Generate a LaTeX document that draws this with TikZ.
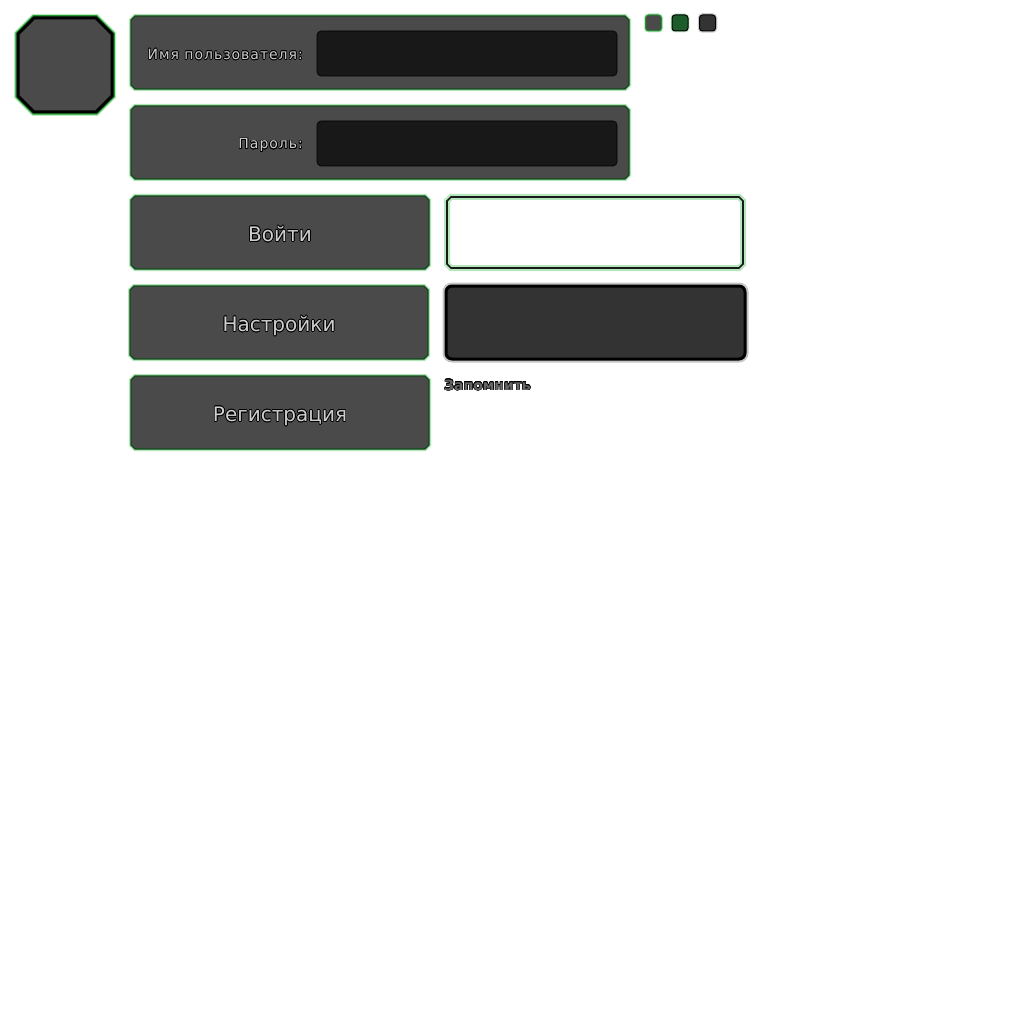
\documentclass[tikz,border=0pt]{standalone}
\usepackage{fontspec}
\setmainfont{DejaVu Sans}
\newfontfamily\labelfont[LetterSpace=7]{DejaVu Sans}
\usepackage[copies]{contour}
\contourlength{0.7pt}
\definecolor{panelgray}{HTML}{4A4A4A}
\definecolor{fieldgray}{HTML}{181818}
\definecolor{darkbox}{HTML}{333333}
\definecolor{borderg}{HTML}{0E4A16}
\definecolor{lineg}{HTML}{1E9A2E}
\definecolor{glowg}{HTML}{7AD487}
\definecolor{sqgreen}{HTML}{1C5C2A}
\definecolor{txtgray}{HTML}{CFCFCF}
% срезанный прямоугольник: {срез}{x1}{y1}{x2}{y2}
\newcommand{\chamfrect}[5]{({#2+#1},#3) -- ({#4-#1},#3) -- (#4,{#3+#1}) -- (#4,{#5-#1})
  -- ({#4-#1},#5) -- ({#2+#1},#5) -- (#2,{#5-#1}) -- (#2,{#3+#1}) -- cycle}
\begin{document}
\begin{tikzpicture}[x=1pt,y=-1pt,
  panel/.style={fill=panelgray, draw=borderg, line width=1.2pt,
    preaction={draw=glowg, line width=4pt, opacity=0.6}},
  field/.style={rectangle, rounded corners=4pt, fill=fieldgray, draw=black, line width=0.6pt,
    minimum width=300pt, minimum height=45pt, inner sep=0pt},
  btntext/.style={text=txtgray, font=\fontsize{20}{24}\selectfont, anchor=base, inner sep=0pt},
  lbltext/.style={text=txtgray, font=\labelfont\fontsize{14}{17}\selectfont, anchor=base east, inner sep=0pt},
  sq/.style={rectangle, rounded corners=3pt, minimum size=16pt, inner sep=0pt, line width=1pt}]
  \useasboundingbox[fill=white] (0,0) rectangle (1024,1024);

  % Аватар
  \draw[fill=panelgray, draw=black, line width=3pt,
    preaction={draw=glowg, line width=8pt, opacity=0.5},
    preaction={draw=lineg, line width=5.5pt}] \chamfrect{16}{18}{18}{112}{112};

  % Имя пользователя
  \draw[panel] \chamfrect{4}{131}{16}{629}{89};
  \node[field] (userfield) at (467,53.5) {};
  \node[lbltext] (userlabel) at (303,59.5) {\contour{black}{Имя пользователя:}};

  % Пароль
  \draw[panel] \chamfrect{4}{131}{106}{629}{179};
  \node[field] (passfield) at (467,143.5) {};
  \node[lbltext] (passlabel) at (303,149) {\contour{black}{Пароль:}};

  % Кнопки
  \draw[panel] \chamfrect{4}{131}{196}{429}{269};
  \node[btntext] (logintext) at (280,241.5) {\contour{black}{Войти}};
  \draw[panel] \chamfrect{4}{130}{286}{428}{359};
  \node[btntext] (settingstext) at (279,331.5) {\contour{black}{Настройки}};
  \draw[panel] \chamfrect{4}{131}{376}{429}{449};
  \node[btntext] (registertext) at (280,421.5) {\contour{black}{Регистрация}};

  % Запомнить
  \fill[white, postaction={draw=glowg, line width=6pt, opacity=0.55},
    postaction={draw=black!90, line width=1.6pt}] \chamfrect{4}{447}{197}{743}{268};
  \node[rectangle, rounded corners=6pt, minimum width=299pt, minimum height=73pt, inner sep=0pt,
    fill=darkbox, draw=black, line width=3pt,
    preaction={draw=black!45, line width=7pt, opacity=0.5}] (checkbox) at (595.5,322.5) {};
  \node[anchor=base west, inner sep=0pt, text=black!60, font=\bfseries\fontsize{14}{17}\selectfont]
    (remembertext) at (444,390) {\contourlength{0.4pt}\contour{black}{Запомнить}};

  % Квадратики
  \node[sq, fill=panelgray, draw=lineg, preaction={draw=glowg, line width=3pt, opacity=0.5}] (sqone) at (653.5,23) {};
  \node[sq, fill=sqgreen, draw=black, preaction={draw=glowg, line width=3pt, opacity=0.4}] (sqtwo) at (680,23) {};
  \node[sq, fill=darkbox, draw=black, preaction={draw=black!40, line width=3.5pt, opacity=0.5}] (sqthree) at (707.5,23) {};
\end{tikzpicture}
\end{document}
